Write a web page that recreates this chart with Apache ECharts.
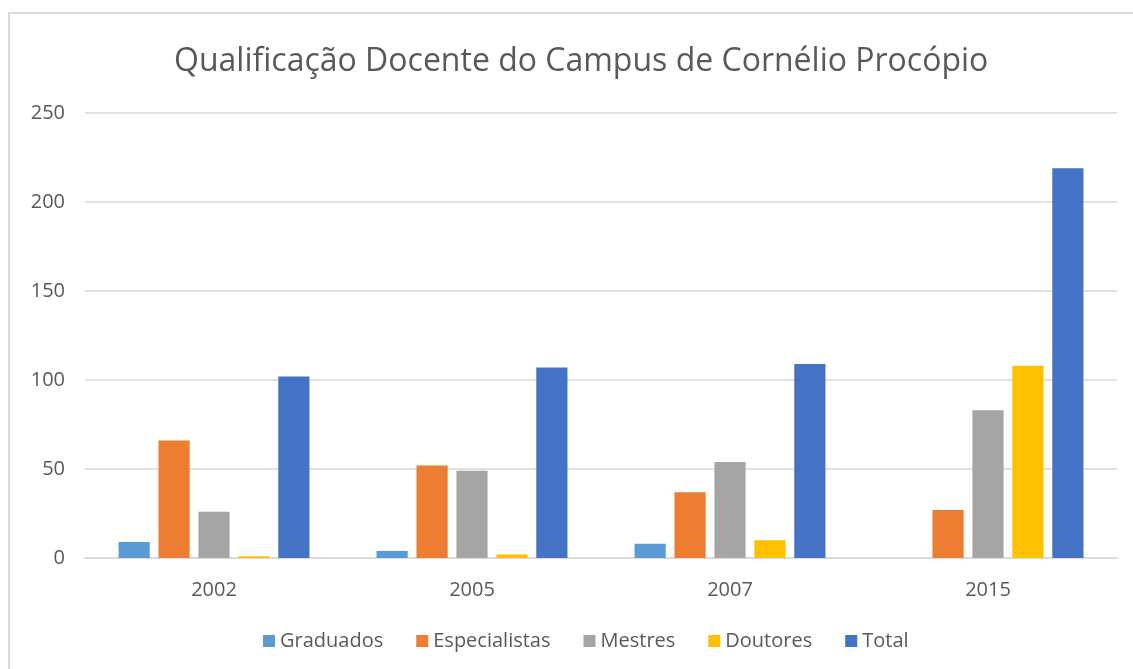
<!DOCTYPE html>
<html>
<head>
<meta charset="utf-8">
<script src="https://cdn.jsdelivr.net/npm/echarts@6/dist/echarts.min.js"></script>
<style>
  html, body { margin: 0; padding: 0; background: #fff; overflow: hidden; }
  .frame {
    position: absolute; left: 8px; top: 12px;
    width: 1140px; height: 680px;
    border: 2px solid #d9d9d9; box-sizing: border-box;
  }
  #chart { position: absolute; left: 0; top: 0; width: 1133px; height: 669px; }
</style>
</head>
<body>
<div class="frame"></div>
<div id="chart"></div>
<script>
const years = ["2002", "2005", "2007", "2015"];
const graduados = [9, 4, 8, 0];
const especialistas = [66, 52, 37, 27];
const mestres = [26, 49, 54, 83];
const doutores = [1, 2, 10, 108];
const total = [102, 107, 109, 219];
const yTicks = [0, 50, 100, 150, 200, 250];

const font = "'Open Sans', 'Noto Sans', sans-serif";
const textColor = "#595959";

const mkBar = (name, data, color) => ({
  name: name,
  type: "bar",
  data: data,
  barGap: "28%",
  barCategoryGap: "26%",
  itemStyle: { color: color },
});

const option = {
  animation: false,
  title: {
    text: "Qualificação Docente do Campus de Cornélio Procópio",
    left: 169,
    top: 41,
    textStyle: { fontFamily: font, fontSize: 32, fontWeight: "normal", color: textColor },
  },
  legend: {
    bottom: 13,
    left: 258,
    icon: "rect",
    itemWidth: 12,
    itemHeight: 12,
    itemGap: 33,
    textStyle: { fontFamily: font, fontSize: 20, color: textColor },
  },
  grid: { left: 85, right: 16, top: 113, bottom: 111 },
  xAxis: {
    type: "category",
    data: years,
    axisLine: { lineStyle: { color: "#d9d9d9", width: 1.5 } },
    axisTick: { show: false },
    axisLabel: { fontFamily: font, fontSize: 20, color: textColor, margin: 22 },
  },
  yAxis: {
    type: "value",
    min: yTicks[0],
    max: yTicks[yTicks.length - 1],
    interval: 50,
    axisLine: { show: false },
    axisTick: { show: false },
    axisLabel: { fontFamily: font, fontSize: 20, color: textColor, margin: 20 },
    splitLine: { lineStyle: { color: "#d9d9d9", width: 1.5 } },
  },
  series: [
    mkBar("Graduados", graduados, "#5B9BD5"),
    mkBar("Especialistas", especialistas, "#ED7D31"),
    mkBar("Mestres", mestres, "#A5A5A5"),
    mkBar("Doutores", doutores, "#FFC000"),
    mkBar("Total", total, "#4472C4"),
  ],
};

const chart = echarts.init(document.getElementById("chart"));
chart.setOption(option);
</script>
</body>
</html>
